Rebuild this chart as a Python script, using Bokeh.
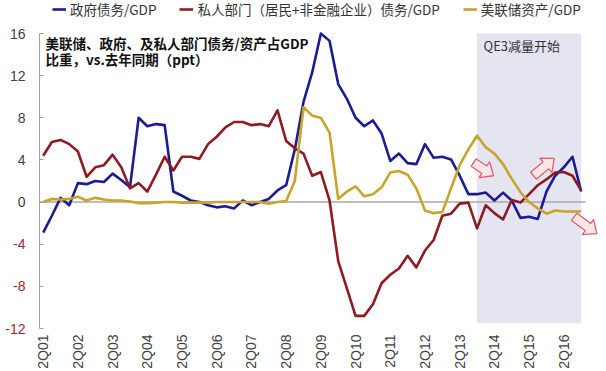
import math
from bokeh.plotting import figure
from bokeh.models import Label, Legend, LegendItem, FixedTicker, ColumnDataSource
from bokeh.core.properties import value
from bokeh.embed import file_html
from bokeh.resources import INLINE

# ---------------- data ----------------
quarters = []
for yr in range(2001, 2017):
    for q in (1, 2, 3, 4):
        if yr == 2001 and q == 1:
            continue
        quarters.append(f"{q}Q{yr % 100:02d}")

gov_debt = [-2.9, -1.3, 0.4, -0.3, 1.8, 1.7, 2.0, 1.9, 2.7, 2.1,
            1.4, 8.0, 7.2, 7.4, 7.3, 1.0, 0.6, 0.15, 0.0, -0.3,
            -0.5, -0.4, -0.6, 0.15, -0.3, 0.0, 0.3, 1.1, 1.6, 5.0,
            9.5, 12.3, 16.0, 15.3, 11.2, 9.8, 8.0, 7.2, 7.75, 6.5,
            3.9, 4.6, 3.7, 3.6, 5.5, 4.2, 4.3, 4.05, 2.5, 0.75,
            0.75, 0.9, 0.15, 0.9, 0.15, -1.5, -1.4, -1.6, 1.0, 2.5,
            3.3, 4.3, 1.0]
priv_debt = [4.4, 5.7, 5.9, 5.5, 4.8, 2.4, 3.3, 3.5, 4.5, 3.3,
             1.3, 1.8, 1.0, 2.6, 4.3, 3.0, 4.3, 4.3, 4.1, 5.5,
             6.2, 7.1, 7.6, 7.6, 7.3, 7.4, 7.2, 8.7, 5.8, 5.1,
             4.6, 2.5, 2.85, 0.15, -5.6, -8.2, -10.8, -10.8, -9.7, -7.7,
             -6.9, -6.3, -5.1, -6.2, -4.6, -3.6, -1.3, -1.1, -0.15, -0.05,
             -2.5, -0.3, -1.05, -1.65, 0.2, -0.05, 0.75, 1.6, 2.15, 2.8,
             2.85, 2.5, 1.1]
fed_assets = [0.0, 0.3, 0.25, 0.3, 0.5, 0.15, 0.4, 0.25, 0.15, 0.15,
              0.05, -0.1, -0.1, -0.05, 0.0, 0.0, -0.05, -0.05, -0.05, -0.05,
              0.0, 0.0, 0.0, 0.0, 0.0, 0.0, -0.15, 0.0, 0.1, 2.0,
              9.0, 8.2, 8.0, 6.6, 0.3, 1.0, 1.5, 0.55, 0.75, 1.4,
              2.8, 2.95, 2.6, 1.3, -0.8, -1.05, -0.95, 1.3, 3.5, 5.0,
              6.3, 5.2, 4.6, 3.6, 2.2, 0.95, 0.0, -0.6, -1.1, -0.8,
              -0.9, -0.9, -0.9]

series_names = ["政府债务/GDP", "私人部门（居民+非金融企业）债务/GDP", "美联储资产/GDP"]
series_colors = ["#1B1B94", "#8E1B24", "#C9A42A"]

y_ticks = [-12, -8, -4, 0, 4, 8, 12, 16]
x_tick_labels = [q for q in quarters if q.startswith("2Q")]

taper_period = ("4Q13", "4Q16")
taper_text = "QE3减量开始"
title_lines = ["美联储、政府、及私人部门债务/资产占GDP", "比重，vs.去年同期（ppt）"]

# block arrows: (tail (index, value), tip (index, value))
arrows = [((49.6, 3.75), (51.9, 2.5)),
          ((56.5, 2.5), (58.9, 4.15)),
          ((61.2, -1.4), (63.8, -3.0))]

# ---------------- layout ----------------
W, H = 606, 371
PX_PER_Q = 8.677
PX_PER_U = 295 / 28.0
AXIS_PX = 39          # px of the vertical axis
FIRST_PX = 42.7       # px of the first quarter
TOP16_PX = 33         # px of the value 16
x0 = -FIRST_PX / PX_PER_Q
x1 = x0 + W / PX_PER_Q
y_top = 16 + TOP16_PX / PX_PER_U
y_bot = y_top - H / PX_PER_U
axis_x = x0 + AXIS_PX / PX_PER_Q

def xd(fx):
    return x0 + fx / PX_PER_Q

def yd(fy):
    return y_top - fy / PX_PER_U

p = figure(width=W, height=H, x_range=(x0, x1), y_range=(y_bot, y_top),
           output_backend="svg", toolbar_location=None,
           min_border_left=0, min_border_right=0,
           min_border_top=0, min_border_bottom=0)
p.title.visible = False
p.outline_line_color = None
p.xgrid.grid_line_color = None
p.ygrid.grid_line_color = None
p.background_fill_color = "white"
p.border_fill_color = "white"

xs = list(range(len(quarters)))

# taper shading
i_start = quarters.index(taper_period[0])
i_end = quarters.index(taper_period[1])
p.quad(left=[i_start], right=[i_end], bottom=[-11.5], top=[y_ticks[-1]],
       fill_color="#E4E5F1", line_color=None)

# zero line (horizontal axis)
p.segment(x0=[axis_x], y0=[0], x1=[len(quarters) - 0.5], y1=[0],
          line_color="#A8A8A8", line_width=1.6)

renderers = []
for vals, col in zip([gov_debt, priv_debt, fed_assets], series_colors):
    r = p.line(xs, vals, line_color=col, line_width=2.6, line_join="round")
    renderers.append(r)

# arrows
for (tx, ty), (hx, hy) in arrows:
    ax = (tx - x0) * PX_PER_Q; ay = ty * PX_PER_U
    bx = (hx - x0) * PX_PER_Q; by = hy * PX_PER_U
    dx, dy = bx - ax, by - ay
    ln = math.hypot(dx, dy)
    ux, uy = dx / ln, dy / ln
    nx, ny = -uy, ux
    w, hh, L = 4.5, 9.5, 11.0
    pts = [(0, -w), (ln - L, -w), (ln - L, -hh), (ln, 0), (ln - L, hh), (ln - L, w), (0, w)]
    px = [x0 + (ax + a * ux + b * nx) / PX_PER_Q for a, b in pts]
    py = [(ay + a * uy + b * ny) / PX_PER_U for a, b in pts]
    p.patch(px, py, fill_color="#FCE6E8", line_color="#E0606C", line_width=1.3)

# vertical axis
yax = p.yaxis[0]
yax.fixed_location = axis_x
yax.bounds = (y_ticks[0], y_ticks[-1])
yax.ticker = FixedTicker(ticks=y_ticks)
yax.major_label_overrides = {t: "" for t in y_ticks if t < 0}
yax.major_tick_in = 4
yax.major_tick_out = 0
yax.minor_tick_in = 0
yax.minor_tick_out = 0
yax.axis_line_color = "#A0A0A0"
yax.major_tick_line_color = "#A0A0A0"
yax.major_label_standoff = 14
yax.major_label_text_font = "Liberation Sans"
yax.major_label_text_font_size = "14px"
yax.major_label_text_color = "#404040"

neg = [t for t in y_ticks if t < 0]
neg_src = ColumnDataSource(dict(x=[axis_x] * len(neg), y=neg, t=[str(t) for t in neg]))
p.text(x="x", y="y", text="t", source=neg_src, x_offset=-14,
       text_align="right", text_baseline="middle",
       text_font=value("Liberation Sans"), text_font_size="14px",
       text_color="#9B2A30")

# horizontal (category) axis
xax = p.xaxis[0]
xax.fixed_location = y_ticks[0]
tick_idx = [quarters.index(q) for q in x_tick_labels]
xax.ticker = FixedTicker(ticks=tick_idx)
xax.major_label_overrides = {i: quarters[i] for i in tick_idx}
xax.major_label_orientation = math.pi / 2
xax.axis_line_color = None
xax.major_tick_line_color = None
xax.minor_tick_line_color = None
xax.major_tick_out = 0
xax.minor_tick_out = 0
xax.major_label_standoff = 6
xax.major_label_text_font = "Liberation Sans"
xax.major_label_text_font_size = "14px"
xax.major_label_text_color = "#404040"

# title text inside plot
for k, line in enumerate(title_lines):
    p.add_layout(Label(x=xd(45), y=yd(42.3 + 16 * k), text=line,
                       text_align="left", text_baseline="middle",
                       text_font="Noto Sans CJK SC", text_font_size="13.5px",
                       text_font_style="bold", text_color="#111111"))

p.add_layout(Label(x=xd(483), y=yd(44.7), text=taper_text,
                   text_align="left", text_baseline="middle",
                   text_font="Noto Sans CJK SC", text_font_size="13px",
                   text_color="#333333"))

legend = Legend(items=[LegendItem(label=n, renderers=[r]) for n, r in zip(series_names, renderers)],
                location=(52, H - 19), orientation="horizontal",
                padding=0, margin=0, spacing=23, glyph_width=14, glyph_height=14,
                label_standoff=4, label_height=14,
                border_line_color=None, background_fill_alpha=0,
                label_text_font="Noto Sans CJK SC", label_text_font_size="13.5px",
                label_text_color="#333333")
p.add_layout(legend)

open("out.html", "w").write(file_html(p, INLINE))
